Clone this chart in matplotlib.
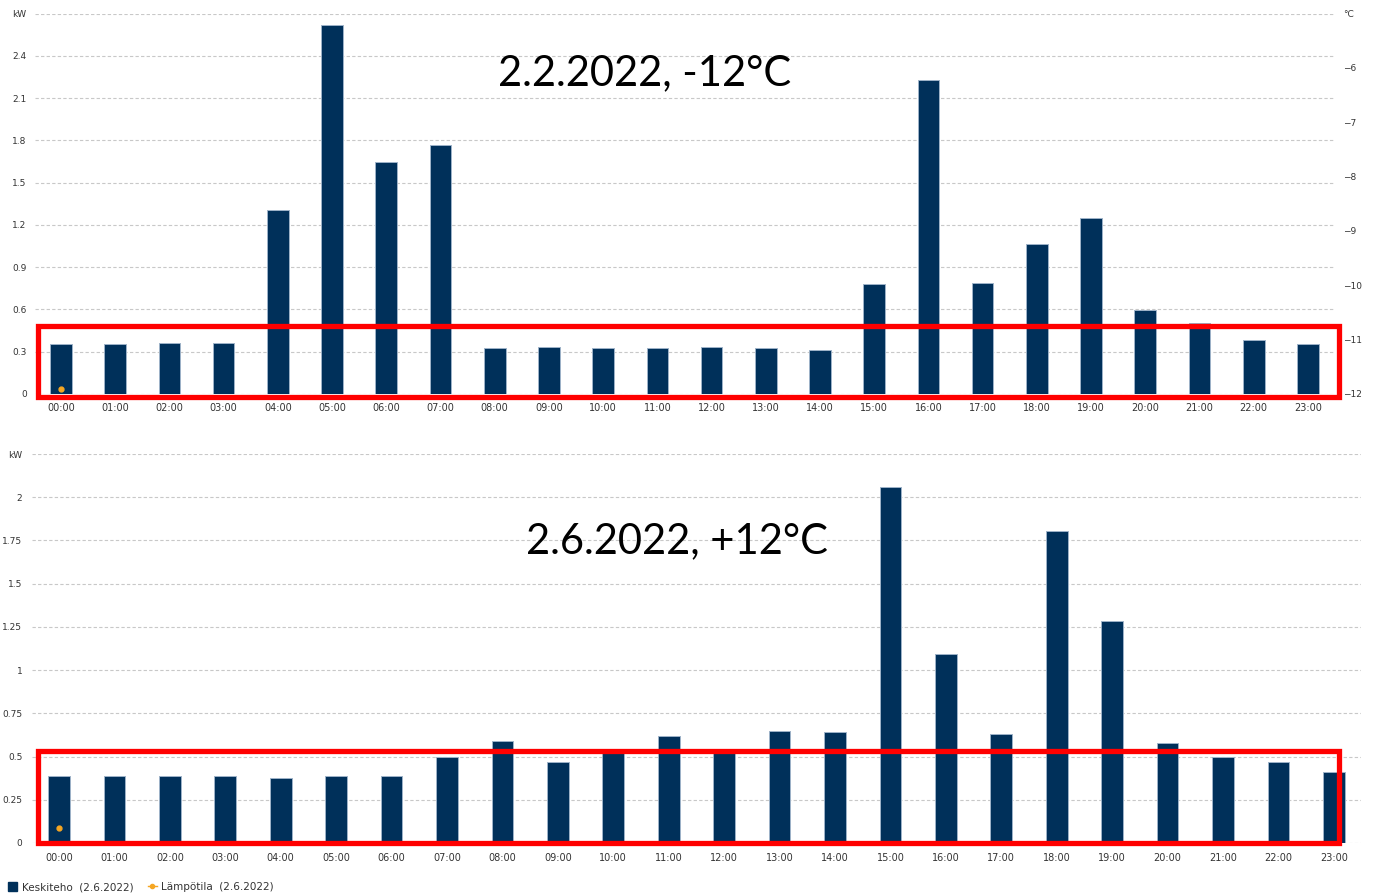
import matplotlib
matplotlib.use("Agg")
import matplotlib.pyplot as plt
import numpy as np
from matplotlib.patches import Rectangle, Patch
from matplotlib.lines import Line2D

# ---- data ----
hours = [f"{h:02d}:00" for h in range(24)]
kw_feb = [0.355, 0.355, 0.36, 0.36, 1.305, 2.62, 1.645, 1.77,
          0.326, 0.333, 0.326, 0.326, 0.333, 0.326, 0.314, 0.78,
          2.23, 0.79, 1.063, 1.25, 0.596, 0.506, 0.385, 0.352]
kw_jun = [0.39, 0.39, 0.385, 0.385, 0.375, 0.385, 0.39, 0.5,
          0.59, 0.47, 0.525, 0.62, 0.525, 0.65, 0.644, 2.06,
          1.094, 0.63, 1.806, 1.286, 0.58, 0.5, 0.47, 0.41]
temp_feb_hours = [0]
temp_feb = [-11.9]
temp_jun_hours = [0]
temp_jun = [12.0]

feb_kw_ticks = [0, 0.3, 0.6, 0.9, 1.2, 1.5, 1.8, 2.1, 2.4]
jun_kw_ticks = [0, 0.25, 0.5, 0.75, 1, 1.25, 1.5, 1.75, 2]
feb_temp_ticks = [-12, -11, -10, -9, -8, -7, -6]

title_feb = "2.2.2022, -12°C"
title_jun = "2.6.2022, +12°C"
legend_power = "Keskiteho  (2.6.2022)"
legend_temp = "Lämpötila  (2.6.2022)"

BAR = "#00305a"
EDGE = "#9db2c8"
ORANGE = "#f5a623"
GRID = "#c8c8c8"
TXT = "#333333"

W, H = 1373, 893
fig = plt.figure(figsize=(W / 100, H / 100), dpi=100)


def fx(px):
    return px / W


def fy(py):
    return 1 - py / H


def setup(ax, ticks, top_val, ylim, xl, xr, lpad, xpad):
    x = np.arange(len(hours))
    ax.set_xlim(xl, xr)
    ax.set_ylim(*ylim)
    ax.set_yticks(list(ticks) + [top_val])
    ax.set_yticklabels([f"{t:g}" for t in ticks] + ["kW"])
    ax.set_xticks(x)
    ax.set_xticklabels(hours)
    ax.tick_params(axis="y", length=0, pad=lpad, labelsize=6.5, labelcolor=TXT)
    ax.tick_params(axis="x", length=0, pad=xpad, labelsize=7, labelcolor=TXT)
    ax.grid(axis="y", color=GRID, linewidth=0.8, linestyle=(0, (3, 2)))
    ax.set_axisbelow(True)
    for s in ax.spines.values():
        s.set_visible(False)


def setup_right(axr, tlim, tticks=None, ttop=None, pad=6):
    axr.set_ylim(*tlim)
    if tticks is None:
        axr.set_yticks([])
    else:
        axr.set_yticks(list(tticks) + [ttop])
        axr.set_yticklabels([f"{t:g}".replace("-", "\u2212") for t in tticks] + ["°C"])
    axr.tick_params(axis="y", length=0, pad=pad, labelsize=6.5, labelcolor=TXT)
    for s in axr.spines.values():
        s.set_visible(False)


# ---- top chart ----
ax1 = fig.add_axes([fx(35), fy(394), fx(1335) - fx(35), fy(13.6) - fy(394)])
ax1r = ax1.twinx()
setup(ax1, feb_kw_ticks, 2.7, (0, 2.7), -0.48, 23.5, 6, 6.5)
setup_right(ax1r, (-12, -5), feb_temp_ticks, -5, pad=6)
ax1.bar(np.arange(24), kw_feb, width=0.4, color=BAR, edgecolor=EDGE,
        linewidth=0.7, zorder=3)
ax1r.plot(temp_feb_hours, temp_feb, "o", color=ORANGE, markersize=3.5, zorder=4)

# ---- bottom chart ----
ax2 = fig.add_axes([fx(32), fy(843), fx(1361) - fx(32), fy(454) - fy(843)])
ax2r = ax2.twinx()
setup(ax2, jun_kw_ticks, 2.25, (0, 2.25), -0.487, 23.49, 7, 7.5)
setup_right(ax2r, (11.72, 19.0))
ax2.bar(np.arange(24), kw_jun, width=0.39, color=BAR, edgecolor=EDGE,
        linewidth=0.7, zorder=3)
ax2r.plot(temp_jun_hours, temp_jun, "o", color=ORANGE, markersize=3.5, zorder=4)

# ---- annotation text ----
fig.text(fx(645), fy(85), title_feb, ha="center", va="baseline",
         fontsize=30, family="Lato", color="black")
fig.text(fx(677), fy(553), title_jun, ha="center", va="baseline",
         fontsize=30, family="Lato", color="black")

# ---- red highlight rectangles ----
for (x0, y0, x1, y1) in [(37.5, 325.5, 1338.5, 397.5), (37.5, 750.5, 1338.5, 842.5)]:
    fig.patches.append(Rectangle((fx(x0), fy(y1)), fx(x1) - fx(x0), fy(y0) - fy(y1),
                                 transform=fig.transFigure, fill=False,
                                 edgecolor="#ff0000", linewidth=3.8, zorder=10))

# ---- legend ----
handles = [Patch(facecolor=BAR, edgecolor=BAR),
           Line2D([0], [0], color=ORANGE, marker="o", markersize=3, linewidth=1)]
fig.legend(handles, [legend_power, legend_temp], loc="center left",
           bbox_to_anchor=(fx(8), fy(887)), ncol=2, frameon=False, fontsize=7.5,
           handlelength=0.9, handleheight=0.9, handletextpad=0.4,
           columnspacing=1.4, borderaxespad=0, borderpad=0, labelcolor=TXT)

fig.savefig("out.png", dpi=100)
